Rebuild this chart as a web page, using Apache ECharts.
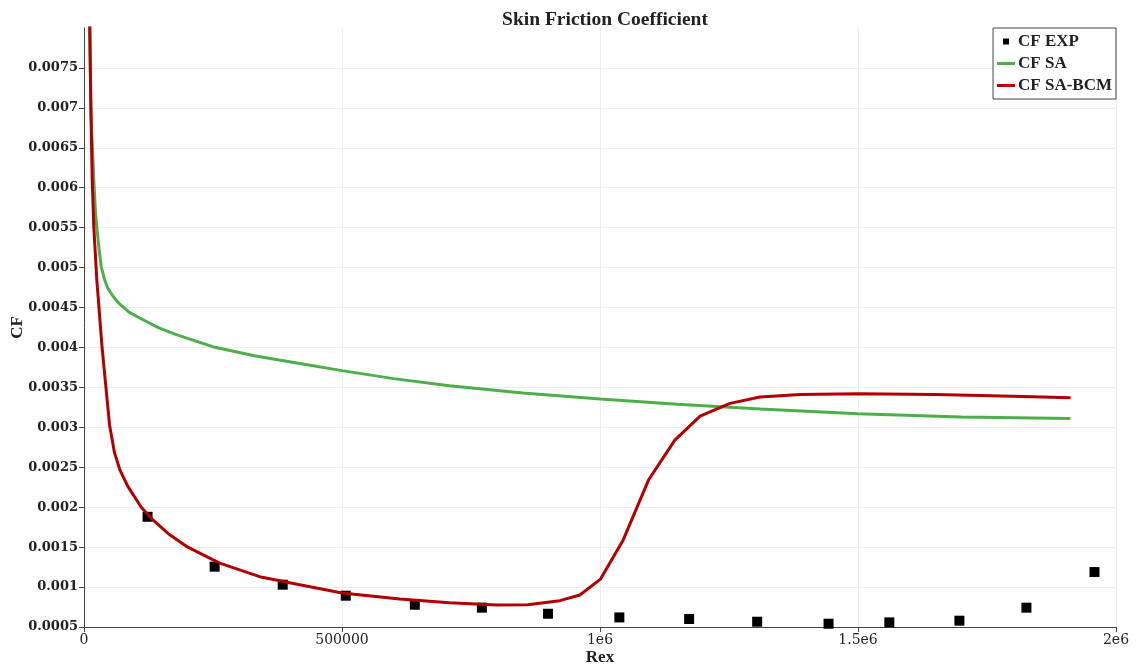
<!DOCTYPE html>
<html>
<head>
<meta charset="utf-8">
<script src="https://cdn.jsdelivr.net/npm/echarts@6/dist/echarts.min.js"></script>
<style>
  html, body { margin: 0; padding: 0; background: #fff; }
  #chart { width: 1138px; height: 668px; }
</style>
</head>
<body>
<div id="chart"></div>
<script>
// Experimental skin friction points (Rex, CF)
const cfExp = [
  [123200, 0.00188], [253200, 0.001255], [385100, 0.00103], [507300, 0.000892],
  [641100, 0.000779], [771100, 0.000742], [899200, 0.000666], [1037500, 0.00062],
  [1172700, 0.0006], [1304600, 0.000566], [1442900, 0.000541], [1560700, 0.000558],
  [1696500, 0.000579], [1826400, 0.000742], [1958300, 0.001188]
];

// Spalart-Allmaras (fully turbulent) prediction
const cfSA = [
  [10200, 0.0082], [14000, 0.00685], [19000, 0.0061], [22300, 0.00568],
  [28700, 0.00526], [33400, 0.00501], [39800, 0.00485], [46000, 0.004745],
  [52800, 0.004675], [60000, 0.00461], [68900, 0.004545], [88000, 0.00444],
  [113500, 0.00435], [145000, 0.004246], [178900, 0.00416], [249300, 0.00401],
  [330000, 0.003896], [418100, 0.0038], [500000, 0.00371], [600000, 0.00361],
  [708000, 0.00352], [850000, 0.00343], [1000600, 0.003354], [1150000, 0.00329],
  [1310400, 0.003229], [1500000, 0.00317], [1700000, 0.00313], [1911600, 0.00311]
];

// SA with BCM transition model
const cfSABCM = [
  [11000, 0.0082], [13000, 0.0071], [15900, 0.0061], [19000, 0.00551],
  [24800, 0.00485], [34900, 0.00401], [49500, 0.00303], [59200, 0.00268],
  [70000, 0.00246], [85000, 0.00226], [111000, 0.002], [133500, 0.00184],
  [165000, 0.00166], [198300, 0.00151], [262900, 0.0013], [340500, 0.00113],
  [418100, 0.00103], [500000, 0.000926], [612000, 0.00085], [708000, 0.000805],
  [800000, 0.000775], [860000, 0.000778], [922000, 0.00083], [961000, 0.0009],
  [1001000, 0.0011], [1045000, 0.00159], [1094000, 0.00234], [1145000, 0.00284],
  [1194000, 0.00314], [1252000, 0.0033], [1310000, 0.00338], [1388000, 0.00341],
  [1500000, 0.00342], [1650000, 0.00341], [1800000, 0.00339], [1912000, 0.00337]
];

const seriesNames = ['CF EXP', 'CF SA', 'CF SA-BCM'];
const xTicks = [0, 500000, 1000000, 1500000, 2000000];
const xTickLabels = ['0', '500000', '1e6', '1.5e6', '2e6'];
const yTicks = [0.0005, 0.001, 0.0015, 0.002, 0.0025, 0.003, 0.0035, 0.004,
                0.0045, 0.005, 0.0055, 0.006, 0.0065, 0.007, 0.0075];
const yTickLabels = ['0.0005', '0.001', '0.0015', '0.002', '0.0025', '0.003', '0.0035', '0.004',
                     '0.0045', '0.005', '0.0055', '0.006', '0.0065', '0.007', '0.0075'];
const yRange = [0.0005, 0.008];

const serif = "'Liberation Serif', 'DejaVu Serif', serif";
const tickFont = "'DejaVu Serif', serif";
const ink = '#222';
const green = '#4daf4a';
const red = '#b20000';

// legend icons: the leading moves fix an 18x14 box, the shape sits inside it
const squareIcon = 'path://M0,0M18,0M18,14M0,14M6,4L12,4L12,10L6,10Z';
const lineIcon = 'path://M0,0M18,0M18,14M0,14M0,5.5L18,5.5L18,8.5L0,8.5Z';

const chart = echarts.init(document.getElementById('chart'), null, { renderer: 'canvas' });

chart.setOption({
  animation: false,
  backgroundColor: '#fff',
  title: {
    text: 'Skin Friction Coefficient',
    left: 600,
    top: 5,
    textAlign: 'center',
    textStyle: { fontFamily: serif, fontWeight: 'bold', fontSize: 19.5, color: ink }
  },
  legend: {
    orient: 'vertical',
    right: 22,
    top: 28,
    padding: [5, 4, 5, 4],
    itemGap: 5,
    itemWidth: 18,
    itemHeight: 14,
    borderColor: '#444',
    borderWidth: 1,
    backgroundColor: '#fff',
    textStyle: { fontFamily: serif, fontWeight: 'bold', fontSize: 17, color: ink, padding: [0, 0, 0, -2] },
    data: [
      { name: seriesNames[0], icon: squareIcon, itemStyle: { color: '#000', opacity: 1 } },
      { name: seriesNames[1], icon: lineIcon, itemStyle: { color: green } },
      { name: seriesNames[2], icon: lineIcon, itemStyle: { color: red } }
    ]
  },
  grid: { left: 84, right: 22, top: 28, bottom: 41, containLabel: false, outerBoundsMode: 'none' },
  xAxis: {
    type: 'value',
    min: xTicks[0],
    max: xTicks[xTicks.length - 1],
    interval: xTicks[1] - xTicks[0],
    name: 'Rex',
    nameLocation: 'middle',
    nameGap: 22,
    nameMoveOverlap: false,
    nameTextStyle: { fontFamily: serif, fontWeight: 'bold', fontSize: 17, color: ink },
    axisLine: { show: true, lineStyle: { color: '#444', width: 1 } },
    axisTick: { show: true, length: 5, lineStyle: { color: '#444' } },
    axisLabel: {
      margin: 6,
      fontFamily: tickFont,
      fontSize: 14,
      color: ink,
      formatter: v => {
        const i = xTicks.indexOf(v);
        return i >= 0 ? xTickLabels[i] : '';
      }
    },
    splitLine: { show: true, lineStyle: { color: '#eeeeee', width: 1 } }
  },
  yAxis: {
    type: 'value',
    min: yRange[0],
    max: yRange[1],
    interval: 0.0005,
    name: 'CF',
    nameLocation: 'middle',
    nameGap: 58,
    nameMoveOverlap: false,
    nameTextStyle: { fontFamily: serif, fontWeight: 'bold', fontSize: 17, color: ink },
    axisLine: { show: true, lineStyle: { color: '#444', width: 1 } },
    axisTick: { show: true, length: 5, lineStyle: { color: '#444' }, customValues: yTicks },
    axisLabel: {
      margin: 6,
      fontFamily: tickFont,
      fontWeight: 'bold',
      fontSize: 13,
      color: ink,
      customValues: yTicks,
      formatter: v => {
        const i = yTicks.findIndex(t => Math.abs(t - v) < 1e-9);
        return i >= 0 ? yTickLabels[i] : '';
      }
    },
    splitLine: { show: true, lineStyle: { color: '#eeeeee', width: 1 } }
  },
  series: [
    {
      name: seriesNames[0],
      type: 'scatter',
      symbol: 'rect',
      symbolSize: 10,
      itemStyle: { color: '#000', opacity: 1 },
      data: cfExp
    },
    {
      name: seriesNames[1],
      type: 'line',
      showSymbol: false,
      symbol: 'none',
      clip: true,
      lineStyle: { color: green, width: 3 },
      itemStyle: { color: green },
      data: cfSA
    },
    {
      name: seriesNames[2],
      type: 'line',
      showSymbol: false,
      symbol: 'none',
      clip: true,
      lineStyle: { color: red, width: 3 },
      itemStyle: { color: red },
      data: cfSABCM
    }
  ]
});
</script>
</body>
</html>
